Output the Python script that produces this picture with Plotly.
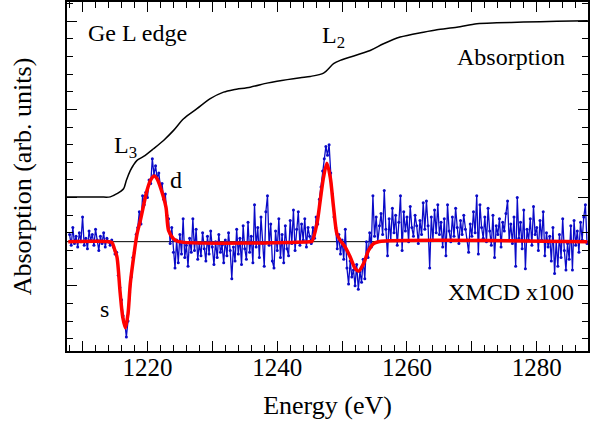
import plotly.graph_objects as go

# ---------------- data ----------------
# Absorption (black) curve, energy (eV) and arbitrary units
abs_energy = [1207.6, 1212.73, 1214.27, 1215.30, 1216.32, 1216.74, 1217.37, 1217.8, 1218.39,
              1219.4, 1220.94, 1222.48, 1224.03, 1225.57, 1227.63, 1229.68, 1231.73, 1233.27,
              1235.84, 1238.42, 1239.96, 1243.55, 1245.09, 1247.14, 1248.68, 1249.71, 1254.33,
              1256.38, 1258.95, 1262.55, 1264.61, 1267.69, 1270.77, 1273.86, 1277.95, 1283.10,
              1287.88]
abs_value = [8.03, 8.03, 8.04, 8.22, 8.50, 8.97, 9.54, 9.82, 10.11,
             10.33, 10.77, 11.24, 11.81, 12.47, 13.04, 13.61, 13.98, 14.12,
             14.26, 14.49, 14.60, 14.80, 14.87, 15.06, 15.59, 15.78, 16.34,
             16.72, 17.10, 17.38, 17.52, 17.66, 17.86, 17.91, 17.95, 18.00,
             18.03]

# XMCD zero level
xmcd_zero = 5.5

# XMCD x100 measured data (blue), 0.25 eV steps from 1208 eV
xmcd_start = 1208.0
xmcd_step = 0.25
xmcd_data = [
    # 1208.0 - 1214.5
    5.9, 5.3, 6.3, 5.4, 5.8, 5.2, 6.0, 5.5, 6.9, 5.3, 5.7, 5.1, 6.1, 5.6, 5.9, 5.3,
    6.2, 5.6, 5.0, 5.8, 5.4, 6.0, 5.2, 5.7, 5.5, 5.3, 5.6,
    # 1214.75 - 1218.5 (L3 dip)
    5.2, 4.8, 4.9, 3.6, 2.9, 2.2, 1.3, 0.9, 0.1, 1.0, 2.6, 3.5, 4.6, 4.9, 5.9, 6.3,
    # 1218.75 - 1224.0 (d peak)
    7.2, 6.5, 8.1, 7.6, 8.3, 8.0, 9.0, 8.8, 10.2, 9.3, 9.8, 9.1, 9.4, 8.6, 8.8, 7.9,
    8.2, 7.0, 6.8, 5.4, 6.3, 4.9,
    # 1224.25 - 1245.0
    4.0, 5.6, 4.3,
    5.9, 4.8, 6.8, 4.6,
    5.3, 4.1, 5.7, 4.9,
    6.8, 5.0, 6.2, 4.5,
    5.4, 4.7, 6.0, 5.1,
    4.4, 5.8, 4.8, 6.1,
    5.2, 4.2, 5.5, 4.6,
    5.9, 4.9, 5.3, 4.3,
    5.6, 4.7, 6.0, 5.0,
    3.4, 5.2, 4.4, 6.2,
    4.8, 5.7, 4.2, 6.4,
    5.1, 4.5, 6.6, 4.9,
    5.8, 4.3, 7.6, 5.2,
    6.3, 4.6, 6.9, 5.4,
    4.1, 7.2, 8.1, 5.3,
    6.5, 4.4, 4.0, 6.1,
    5.0, 6.8, 4.6, 5.9,
    4.3, 6.4, 5.1, 4.7,
    6.7, 5.4, 7.3, 5.0,
    6.2, 7.2, 5.3, 6.5,
    5.6, 6.8, 5.2, 6.3,
    5.8,
    # 1245.25 - 1249.5 (L2 peak)
    5.4, 6.3, 5.7, 6.9, 6.5, 7.9, 8.6, 9.5, 10.2, 10.9, 10.4, 11.0, 9.4, 8.2, 6.9, 6.3,
    5.1, 5.9,
    # 1249.75 - 1255.5 (L2 dip)
    4.8, 5.6, 4.5, 6.2, 4.0, 3.1, 4.4, 3.5, 3.9, 3.0, 4.2, 2.8, 3.8, 3.2, 4.5, 3.4,
    5.5, 4.6, 6.0, 5.2, 8.1, 5.8, 6.9, 5.5,
    # 1255.75 - 1287.75
    6.4,
    7.1, 5.9, 8.4, 6.2,
    4.7, 6.8, 5.6, 7.4,
    6.0, 7.0, 5.3, 6.6,
    8.1, 5.0, 7.2, 6.1,
    6.9, 5.5, 7.5, 6.3,
    5.8, 7.0, 6.4, 5.4,
    6.7, 5.9, 7.7, 6.2,
    7.8, 6.4, 4.0, 6.9,
    5.6, 7.3, 6.0, 7.6,
    5.9, 6.6, 5.2, 6.8,
    4.7, 7.6, 6.1, 5.5,
    6.9, 5.8, 7.4, 6.3,
    5.4, 6.7, 5.9, 7.0,
    6.2, 5.6, 4.9, 6.5,
    5.8, 7.2, 6.0, 8.1,
    4.8, 7.6, 6.3, 5.7,
    6.9, 5.5, 7.4, 6.1,
    5.3, 7.0, 4.6, 6.4,
    5.9, 6.8, 5.2, 6.6,
    6.1, 7.1, 7.8, 5.6,
    6.5, 5.4, 6.9, 4.1,
    8.0, 5.7, 6.6, 5.1,
    7.3, 3.97, 6.2, 5.6,
    6.8, 5.3, 7.5, 5.9,
    6.3, 5.0, 6.7, 5.6,
    7.2, 4.7, 6.0, 5.2,
    5.8, 4.4, 6.3, 3.7,
    5.5, 4.1, 5.9, 4.6,
    6.8, 5.0, 3.9, 5.4,
    4.5, 6.4, 3.9, 6.7,
    5.3, 6.1, 4.9, 6.6,
    5.6, 6.9, 7.6, 5.4,
]
xmcd_energy = [xmcd_start + xmcd_step * i for i in range(len(xmcd_data))]

# Fit (red) curve
fit_energy = [1207.8, 1214.0, 1214.53, 1214.9, 1215.3, 1215.8, 1216.2, 1216.6, 1217.0, 1217.35,
              1217.86, 1218.4, 1218.9, 1219.93, 1220.5, 1221.05, 1221.5, 1221.98, 1222.85,
              1223.25, 1224.0, 1224.8, 1245.0, 1245.35, 1246.12, 1246.63, 1247.14, 1247.66,
              1248.17, 1248.68, 1249.2, 1249.71, 1250.48, 1251.25, 1252.02, 1252.53, 1253.3,
              1254.07, 1254.84, 1255.6, 1287.8]
fit_value = [5.5, 5.5, 5.45, 5.1, 4.63, 2.57, 1.2, 0.62, 1.4, 3.1,
             4.6, 5.95, 6.7, 8.4, 9.0, 9.22, 9.05, 8.6, 7.46,
             6.14, 5.67, 5.5, 5.5, 5.52, 6.52, 7.84, 9.16, 9.95,
             9.16, 7.46, 5.95, 5.57, 5.19, 4.63, 3.97, 3.83, 4.25,
             5.0, 5.39, 5.5, 5.5]

x_range = [1207.6, 1287.9]
y_tickvals = [3, 8, 13, 18]

FONT = "Liberation Serif"

fig = go.Figure()

fig.add_shape(type="line", xref="paper", yref="y", x0=0, x1=1, y0=xmcd_zero, y1=xmcd_zero,
              line=dict(color="black", width=1), layer="below")

fig.add_trace(go.Scatter(x=xmcd_energy, y=xmcd_data, mode="lines+markers",
                         line=dict(color="rgb(10,10,200)", width=1.3),
                         marker=dict(color="rgb(10,10,200)", size=3),
                         showlegend=False, hoverinfo="skip"))
fig.add_trace(go.Scatter(x=fit_energy, y=fit_value, mode="lines",
                         line=dict(color="rgb(255,0,0)", width=3.5, shape="spline", smoothing=0.8),
                         showlegend=False, hoverinfo="skip"))
fig.add_trace(go.Scatter(x=abs_energy, y=abs_value, mode="lines", xaxis="x2",
                         line=dict(color="black", width=1.5, shape="spline", smoothing=0.8),
                         showlegend=False, hoverinfo="skip"))

ann_font = dict(family=FONT, size=24, color="black")
annotations = [
    dict(text="Ge L edge", x=0.1344, y=0.912, xanchor="center", yanchor="middle"),
    dict(text="L<sub>3</sub>", x=0.0858, y=0.585, xanchor="left", yanchor="middle"),
    dict(text="d", x=0.2092, y=0.49, xanchor="center", yanchor="middle"),
    dict(text="L<sub>2</sub>", x=0.4856, y=0.90, xanchor="left", yanchor="middle"),
    dict(text="Absorption", x=0.8528, y=0.8424, xanchor="center", yanchor="middle"),
    dict(text="XMCD x100", x=0.8522, y=0.169, xanchor="center", yanchor="middle"),
    dict(text="s", x=0.0729, y=0.1203, xanchor="center", yanchor="middle"),
]
for a in annotations:
    a.update(xref="paper", yref="paper", showarrow=False, font=ann_font)

tick_style = dict(ticks="inside", tickwidth=1.3, tickcolor="black")
minor_x = dict(tickmode="linear", tick0=1208, dtick=2, ticks="inside", ticklen=6,
               tickwidth=1.3, tickcolor="black", showgrid=False)

fig.update_layout(
    width=592, height=431,
    margin=dict(l=67, r=4, t=2, b=80, autoexpand=False),
    paper_bgcolor="white", plot_bgcolor="white",
    annotations=annotations,
    font=dict(family=FONT, color="black"),
    xaxis=dict(
        range=x_range, automargin=False,
        tickmode="linear", tick0=1220, dtick=20, ticklen=10, **tick_style,
        minor=minor_x,
        showline=True, linecolor="black", linewidth=1.5, mirror="ticks",
        showgrid=False, zeroline=False,
        tickfont=dict(family=FONT, size=25, color="black"),
        ticklabelstandoff=-7,
        title=dict(text="Energy (eV)", font=dict(family=FONT, size=26, color="black"), standoff=16),
    ),
    xaxis2=dict(
        range=x_range, overlaying="x", side="bottom", anchor="y", automargin=False,
        tickmode="linear", tick0=1210, dtick=10, ticklen=10, **tick_style,
        showticklabels=False, showline=False, mirror="ticks",
        showgrid=False, zeroline=False,
    ),
    yaxis=dict(
        range=[-0.70, 19.09], automargin=False,
        tickmode="array", tickvals=y_tickvals, showticklabels=False, ticklen=10, **tick_style,
        minor=dict(tickmode="linear", tick0=0, dtick=1, ticks="inside", ticklen=6,
                   tickwidth=1.3, tickcolor="black", showgrid=False),
        showline=True, linecolor="black", linewidth=1.5, mirror="ticks",
        showgrid=False, zeroline=False,
        title=dict(text="Absorption (arb. units)", font=dict(family=FONT, size=26, color="black"),
                   standoff=26),
    ),
)

fig.write_html("out.html", config={"displayModeBar": False},
               post_script="document.body.style.margin='0px';")
